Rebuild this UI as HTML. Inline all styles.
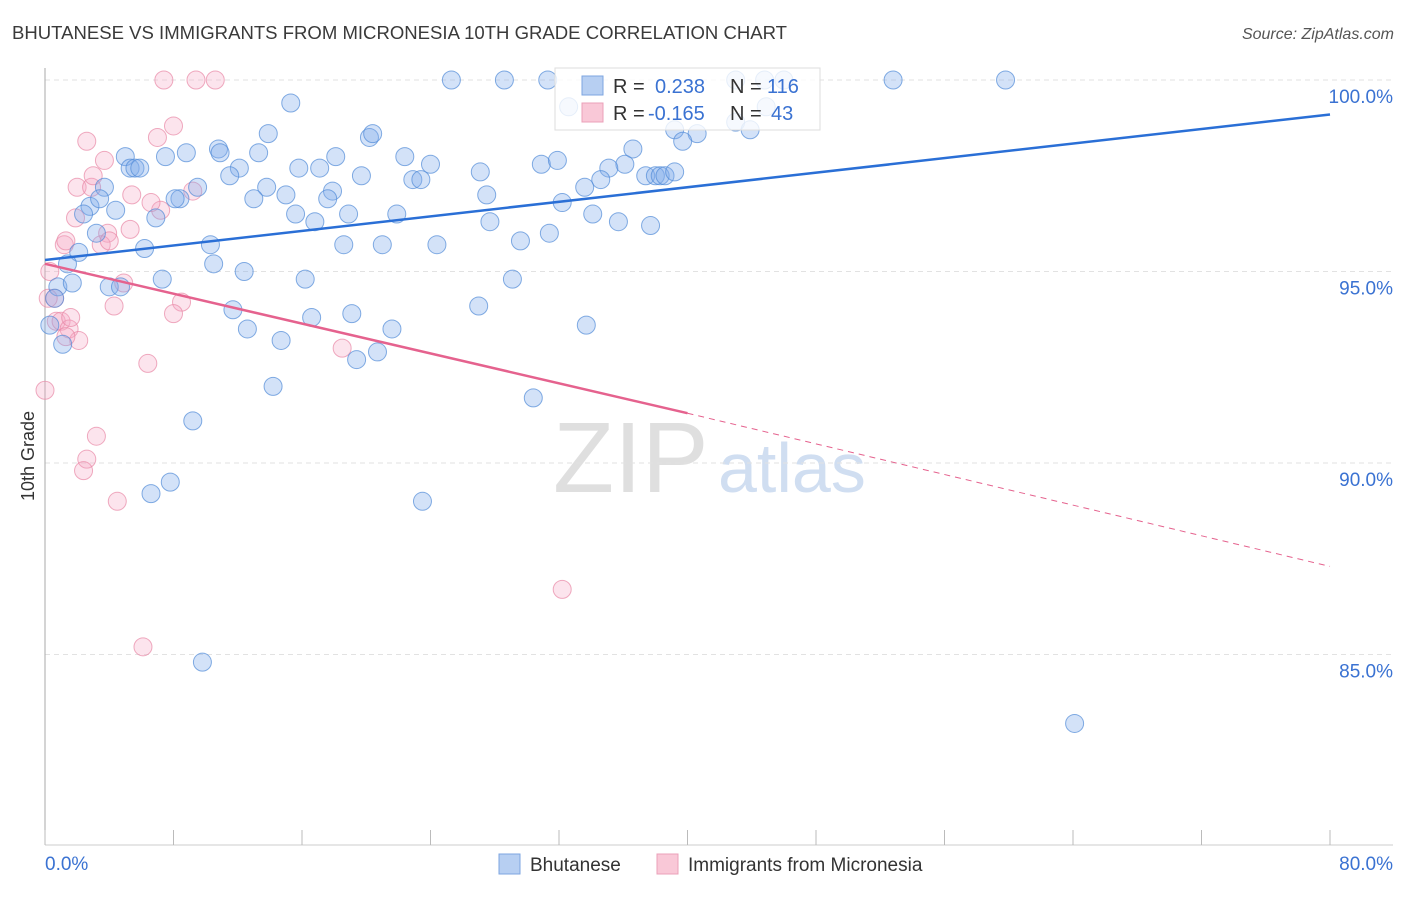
<!DOCTYPE html>
<html><head><meta charset="utf-8"><style>
body{margin:0;background:#fff;font-family:"Liberation Sans",sans-serif}
svg text{font-family:"Liberation Sans",sans-serif}
</style></head><body>
<svg id="chart" width="1406" height="892" xmlns="http://www.w3.org/2000/svg">
<text x="12" y="39" font-size="18.5" fill="#3a3a3a" textLength="775" lengthAdjust="spacingAndGlyphs">BHUTANESE VS IMMIGRANTS FROM MICRONESIA 10TH GRADE CORRELATION CHART</text>
<text x="1394" y="39" font-size="16" fill="#555" text-anchor="end" font-style="italic">Source: ZipAtlas.com</text>
<text x="553" y="492" font-size="100" fill="#d8d8d8" font-family="Liberation Serif" opacity="0.8">ZIP</text>
<text x="718" y="492" font-size="70" fill="#c5d6ee" opacity="0.8">atlas</text>
<g id="grid"></g>
<g id="axes"></g>
<g id="pink"></g>
<g id="blue"></g>
<g id="lines"></g>
<text transform="translate(34,456) rotate(-90)" font-size="18" fill="#333" text-anchor="middle">10th Grade</text>
<g>
<rect x="555" y="68" width="265" height="62" fill="#fff" fill-opacity="0.8" stroke="#ddd"/>
<rect x="582" y="76" width="21" height="19" fill="#b7cff2" stroke="#7ea6e0"/>
<rect x="582" y="103" width="21" height="19" fill="#f9c8d7" stroke="#eba0b8"/>
<text x="613" y="93" font-size="20" fill="#333">R =</text>
<text x="655" y="93" font-size="20" fill="#3a72d2">0.238</text>
<text x="730" y="93" font-size="20" fill="#333">N =</text>
<text x="767" y="93" font-size="20" fill="#3a72d2">116</text>
<text x="613" y="120" font-size="20" fill="#333">R =</text>
<text x="648" y="120" font-size="20" fill="#3a72d2">-0.165</text>
<text x="730" y="120" font-size="20" fill="#333">N =</text>
<text x="771" y="120" font-size="20" fill="#3a72d2">43</text>
</g>
<g>
<rect x="499" y="854" width="21" height="20" fill="#b7cff2" stroke="#7ea6e0"/>
<text x="530" y="871" font-size="19" fill="#333">Bhutanese</text>
<rect x="657" y="854" width="21" height="20" fill="#f9c8d7" stroke="#eba0b8"/>
<text x="688" y="871" font-size="19" fill="#333">Immigrants from Micronesia</text>
</g>
</svg>
<script>
const xTicks=[0,8,16,24,32,40,48,56,64,72,80];
const yTicks=[100,95,90,85];
const yTickLabels=["100.0%","95.0%","90.0%","85.0%"];
const xTickLabels=["0.0%","80.0%"];
const blueX=[25.3,28.6,31.3,43,44.8,46,52.8,59.8,15.3,32.6,43,39.2,40.6,43.9,39.7,44.9,13.9,20.2,20.4,5,7.5,8.8,10.8,10.9,13.3,18.1,22.4,24,30.9,31.9,36.6,36.1,37.4,5.3,5.6,5.9,12.1,11.5,15.8,17.1,19.7,22.9,23.4,27.1,35.1,34.6,38,38.3,38.6,39.2,3.7,9.5,8.4,8.1,13.8,13,15,17.9,17.6,27.5,33.6,32.2,2.8,2.4,3.4,4.4,6.9,15.6,16.8,18.9,21.9,27.7,34.1,35.7,37.7,3.2,10.3,6.2,2.1,1.4,18.6,21,24.4,29.6,31.4,10.5,12.4,7.3,16.2,29.1,0.8,1.7,4,4.7,11.7,16.6,19.1,12.6,14.7,21.6,27,33.7,1.1,20.7,19.4,14.2,30.4,9.2,7.8,6.6,23.5,9.8,64.1,0.3,0.6];
const blueY=[100,100,100,100,100,100,100,100,99.4,99.3,98.9,98.7,98.6,98.7,98.4,99.3,98.6,98.5,98.6,98,98,98.1,98.2,98.1,98.1,98,98,97.8,97.8,97.9,98.2,97.8,97.5,97.7,97.7,97.7,97.7,97.5,97.7,97.7,97.5,97.4,97.4,97.6,97.7,97.4,97.5,97.5,97.5,97.6,97.2,97.2,96.9,96.9,97.2,96.9,97,97.1,96.9,97,97.2,96.8,96.7,96.5,96.9,96.6,96.4,96.5,96.3,96.5,96.5,96.3,96.5,96.3,96.2,96,95.7,95.6,95.5,95.2,95.7,95.7,95.7,95.8,96,95.2,95,94.8,94.8,94.8,94.6,94.7,94.6,94.6,94,93.8,93.9,93.5,93.2,93.5,94.1,93.6,93.1,92.9,92.7,92,91.7,91.1,89.5,89.2,89,84.8,83.2,93.6,94.3];
const pinkX=[7.4,9.4,10.6,8,7,2.6,3.7,2,2.9,3,1.9,9.2,7.2,6.6,5.4,5.3,1.2,1.3,3.9,3.5,4,4.9,4.3,8.5,8,18.5,6.4,0.6,0.7,1,1.5,2.1,1.3,1.6,0,3.2,2.6,2.4,4.5,6.1,32.2,0.3,0.2];
const pinkY=[100,100,100,98.8,98.5,98.4,97.9,97.2,97.2,97.5,96.4,97.1,96.6,96.8,97,96.1,95.7,95.8,96,95.7,95.8,94.7,94.1,94.2,93.9,93,92.6,94.3,93.7,93.7,93.5,93.2,93.3,93.8,91.9,90.7,90.1,89.8,89,85.2,86.7,95,94.3];
const blueTrend=[[0,95.3],[80,99.1]];
const pinkTrend=[[0,95.2],[40,91.3],[80,87.3]];
const X=v=>45+v*(1285/80);
const Y=v=>80+(100-v)*38.3;
const NS="http://www.w3.org/2000/svg";
function mk(tag,parent,attrs){const e=document.createElementNS(NS,tag);for(const k in attrs)e.setAttribute(k,attrs[k]);parent.appendChild(e);return e;}
const grid=document.getElementById('grid'),axes=document.getElementById('axes');
yTicks.forEach((t,i)=>{
 const l=mk('line',grid,{x1:45,x2:1393,y1:Y(t),y2:Y(t),stroke:'#e2e2e2','stroke-dasharray':'5,4'});
 
 
 const tx=mk('text',axes,{x:1393,y:Y(t)+23,'font-size':19,fill:'#3a72d2','text-anchor':'end'});
 tx.textContent=yTickLabels[i];
 
 
});
const al=mk('line',axes,{x1:45,x2:45,y1:68,y2:845,stroke:'#aaa'});


const bl=mk('line',axes,{x1:45,x2:1393,y1:845,y2:845,stroke:'#ccc'});


xTicks.forEach(t=>{
 const l=mk('line',axes,{x1:X(t),x2:X(t),y1:830,y2:845,stroke:'#bbb'});
 
 
});
[[0,'start',45],[80,'end',1393]].forEach((d,i)=>{
 const tx=mk('text',axes,{x:d[2],y:870,'font-size':19,fill:'#3a72d2','text-anchor':d[1]});
 tx.textContent=xTickLabels[i];
 
 
});
function dots(gid,xs,ys,fill,stroke){
 const g=document.getElementById(gid);
 xs.forEach((x,i)=>{
  const r=(x===0&&gid==='blue')?14:9;
  const c=mk('circle',g,{cx:X(x),cy:Y(ys[i]),r:r,fill:fill,stroke:stroke,'stroke-width':1});
  
  
 });
}
dots('pink',pinkX,pinkY,'rgba(245,165,195,0.3)','rgba(232,135,165,0.7)');
dots('blue',blueX,blueY,'rgba(130,172,235,0.35)','rgba(80,138,215,0.7)');
const lines=document.getElementById('lines');
const b=mk('line',lines,{x1:X(blueTrend[0][0]),y1:Y(blueTrend[0][1]),x2:X(blueTrend[1][0]),y2:Y(blueTrend[1][1]),stroke:'#2a6fd6','stroke-width':2.5});


const p=mk('line',lines,{x1:X(pinkTrend[0][0]),y1:Y(pinkTrend[0][1]),x2:X(pinkTrend[1][0]),y2:Y(pinkTrend[1][1]),stroke:'#e5628e','stroke-width':2.5});


const pd=mk('line',lines,{x1:X(pinkTrend[1][0]),y1:Y(pinkTrend[1][1]),x2:X(pinkTrend[2][0]),y2:Y(pinkTrend[2][1]),stroke:'#e5628e','stroke-width':1,'stroke-dasharray':'6,5'});


</script>
</body></html>
